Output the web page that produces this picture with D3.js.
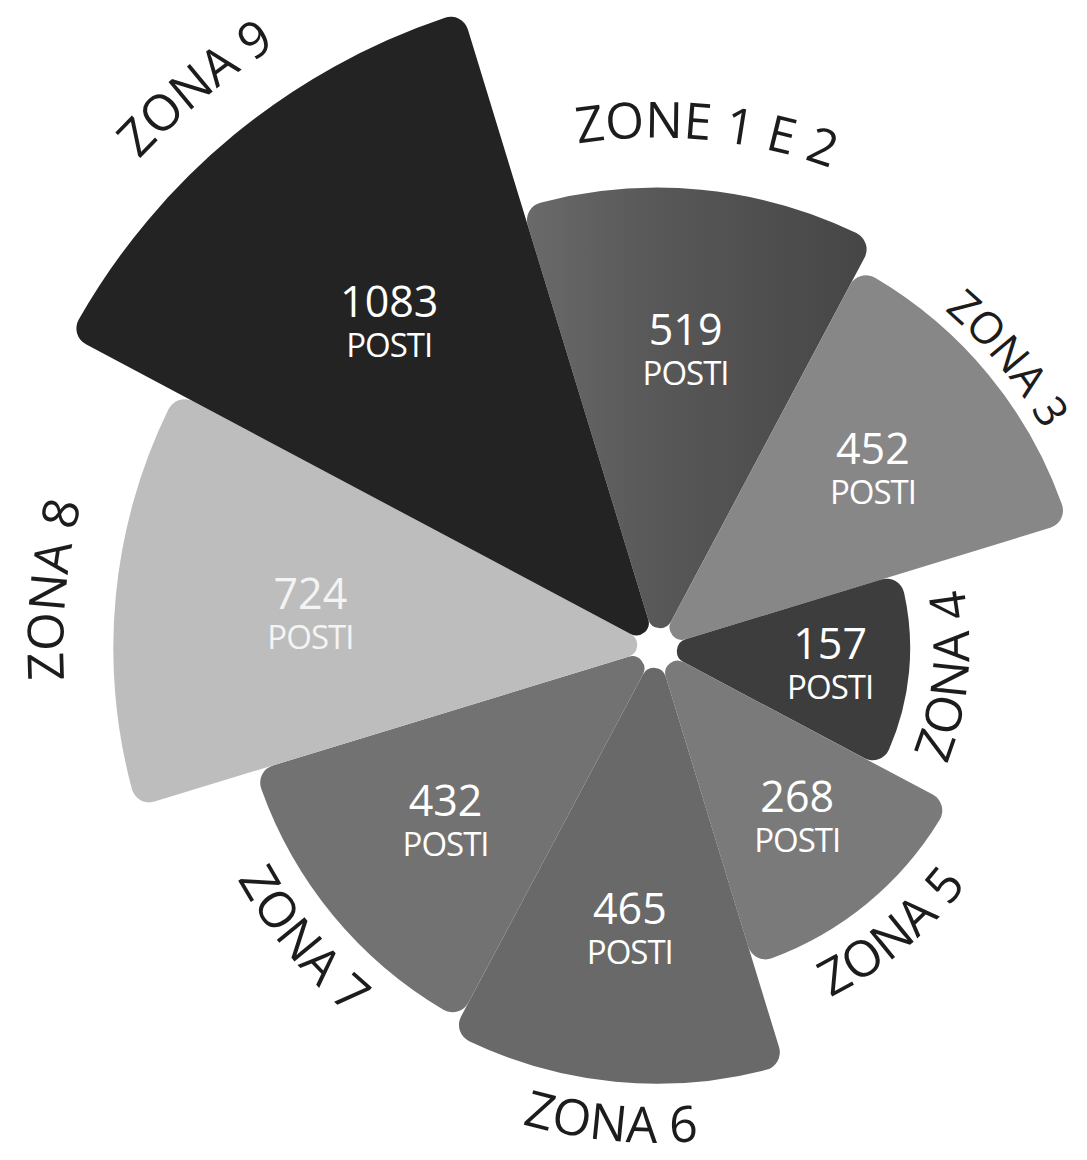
<!DOCTYPE html>
<html>
<head>
<meta charset="utf-8">
<script src="https://cdn.jsdelivr.net/npm/d3@7"></script>
<style>
	html, body { margin: 0; padding: 0; background: #fff; }
	text { font-family: 'Open Sans', 'Noto Sans', sans-serif; }
</style>
</head>
<body>
<div id="chart"></div>
<script>
const zones = ['ZONE 1 E 2', 'ZONA 3', 'ZONA 4', 'ZONA 5', 'ZONA 6', 'ZONA 7', 'ZONA 8', 'ZONA 9'];
const posti = [519, 452, 157, 268, 465, 432, 724, 1083];
const unitLabel = 'POSTI';
const shades = ['url(#zone12)', '#878787', '#3d3d3d', '#7a7a7a', '#696969', '#727272', '#bdbdbd', '#232323'];

const width = 1087;
const height = 1160;
const cx = 657;
const cy = 648;

const svg = d3
	.select('#chart')
	.append('svg')
	.attr('width', width)
	.attr('height', height)
	.style('background', 'white');

const defs = svg.append('defs');
const grad = defs
	.append('linearGradient')
	.attr('id', 'zone12')
	.attr('gradientUnits', 'userSpaceOnUse')
	.attr('x1', -140)
	.attr('y1', 0)
	.attr('x2', 230)
	.attr('y2', 0);
grad.append('stop').attr('offset', 0).attr('stop-color', '#6b6b6b');
grad.append('stop').attr('offset', 0.35).attr('stop-color', '#595959');
grad.append('stop').attr('offset', 1).attr('stop-color', '#444444');

const g = svg.append('g').attr('transform', `translate(${cx},${cy})`);

const data = zones.map((name, i) => ({ name, value: posti[i], fill: shades[i] }));

const start = (-17 * Math.PI) / 180;
const pie = d3
	.pie()
	.value(() => 1)
	.sort(null)
	.startAngle(start)
	.endAngle(start + 2 * Math.PI);

const r = d3.scaleSqrt().domain([0, d3.max(posti)]).range([0, 665]);

const arc = d3
	.arc()
	.innerRadius(20)
	.outerRadius((d) => r(d.data.value))
	.cornerRadius(18);

const slices = pie(data);

g.selectAll('.slice')
	.data(slices)
	.enter()
	.append('path')
	.attr('class', 'slice')
	.attr('d', arc)
	.attr('fill', (d) => d.data.fill);

// point on circle, angle measured clockwise from 12 o'clock
const pt = (a, rad) => [rad * Math.sin(a), -rad * Math.cos(a)];

// ==== zone names on curved paths ====
const span = (80 * Math.PI) / 180;
const isBottom = (a) => {
	const deg = ((a * 180) / Math.PI + 360) % 360;
	return deg > 90 && deg < 270;
};

function labelPath(mid, R, bottom) {
	if (bottom) {
		const a = pt(mid + span, R);
		const b = pt(mid - span, R);
		return `M${a[0]},${a[1]} A${R},${R} 0 0 0 ${b[0]},${b[1]}`;
	}
	const a = pt(mid - span, R);
	const b = pt(mid + span, R);
	return `M${a[0]},${a[1]} A${R},${R} 0 0 1 ${b[0]},${b[1]}`;
}

// does a label of arc length len, baseline R, fit on the page?
function fits(mid, R, len, cap, bottom) {
	const half = len / 2 / R;
	const rIn = bottom ? R - cap : R;
	const rOut = bottom ? R : R + cap * 1.15;
	const m = 10;
	for (let t = -half; t <= half + 1e-9; t += half / 8) {
		for (const rr of [rIn, rOut]) {
			const p = pt(mid + t, rr);
			const x = p[0] + cx;
			const y = p[1] + cy;
			if (x < m || x > width - m || y < m || y > height - m) return false;
		}
	}
	return true;
}

slices.forEach((d, i) => {
	const mid = (d.startAngle + d.endAngle) / 2;
	const outer = r(d.data.value);
	const bottom = isBottom(mid);
	let size = 50;
	let cap = size * 0.74;
	let R = bottom ? outer + 22 + cap : outer + 50;
	const minR = bottom ? outer + 14 + cap : outer + 14;
	const path = defs.append('path').attr('id', 'lab' + i).attr('d', labelPath(mid, R, bottom));
	const label = g.append('text').attr('font-size', size).attr('fill', '#1c1c1c');
	label
		.append('textPath')
		.attr('href', '#lab' + i)
		.attr('startOffset', '50%')
		.attr('text-anchor', 'middle')
		.text(d.data.name);

	// pull the label in (never onto the slice), then shrink it, if it runs past the page edge
	let len = label.node().getComputedTextLength();
	for (let k = 0; k < 200 && !fits(mid, R, len, cap, bottom); k++) {
		if (R > minR) {
			R -= 1;
		} else if (size > 44) {
			size -= 1;
			cap = size * 0.74;
			label.attr('font-size', size);
			len = label.node().getComputedTextLength();
		} else break;
	}
	path.attr('d', labelPath(mid, R, bottom));
});

// ==== values inside the slices ====
const vals = g
	.selectAll('.val')
	.data(slices)
	.enter()
	.append('g')
	.attr('class', 'val')
	.attr('transform', (d) => {
		const mid = (d.startAngle + d.endAngle) / 2;
		const p = pt(mid, 0.6 * r(d.data.value) + 22);
		return `translate(${p[0]},${p[1]})`;
	})
	.attr('fill', (d) => (d.data.value === 724 ? '#f4f4f4' : '#ffffff'))
	.attr('text-anchor', 'middle');

vals.append('text')
	.attr('y', -6)
	.attr('font-size', 43)
	.text((d) => d.data.value);

vals.append('text')
	.attr('y', 34)
	.attr('font-size', 33)
	.attr('letter-spacing', -1)
	.text(unitLabel);
</script>
</body>
</html>
